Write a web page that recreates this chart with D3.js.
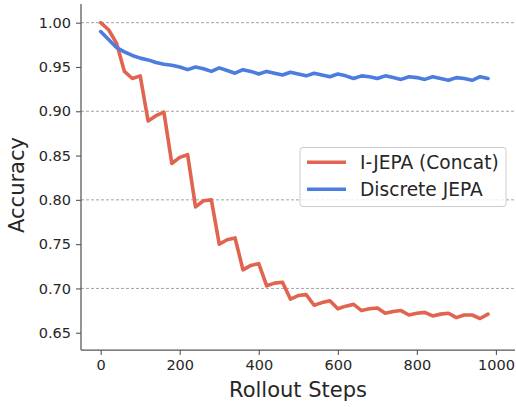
<!DOCTYPE html>
<html>
<head>
<meta charset="utf-8">
<script src="https://cdn.jsdelivr.net/npm/d3@7"></script>
<style>
  body { margin: 0; background: #fff; }
  text { font-family: "DejaVu Sans", sans-serif; fill: #262626; }
</style>
</head>
<body>
<div id="chart"></div>
<script>
/*data*/
const steps = d3.range(0, 1000, 20);
const ijepaAcc = [1.000, 0.992, 0.977, 0.945, 0.937, 0.940, 0.889, 0.895, 0.899, 0.841,
                  0.848, 0.851, 0.792, 0.799, 0.800, 0.750, 0.755, 0.757, 0.721, 0.726,
                  0.728, 0.703, 0.706, 0.707, 0.688, 0.692, 0.693, 0.681, 0.684, 0.686,
                  0.677, 0.680, 0.682, 0.675, 0.677, 0.678, 0.672, 0.674, 0.675, 0.670,
                  0.672, 0.673, 0.669, 0.671, 0.672, 0.667, 0.670, 0.670, 0.666, 0.671];
const discreteAcc = [0.990, 0.981, 0.972, 0.967, 0.963, 0.960, 0.958, 0.955, 0.953, 0.952,
                     0.950, 0.947, 0.950, 0.948, 0.945, 0.949, 0.946, 0.943, 0.947, 0.945,
                     0.942, 0.945, 0.943, 0.941, 0.944, 0.942, 0.940, 0.943, 0.941, 0.939,
                     0.942, 0.940, 0.937, 0.940, 0.939, 0.937, 0.940, 0.938, 0.936, 0.939,
                     0.938, 0.936, 0.939, 0.937, 0.935, 0.938, 0.937, 0.935, 0.939, 0.937];
const seriesNames = ["I-JEPA (Concat)", "Discrete JEPA"];
const xTicks = [0, 200, 400, 600, 800, 1000];
const yTicks = [0.65, 0.70, 0.75, 0.80, 0.85, 0.90, 0.95, 1.00];
const gridValues = [0.70, 0.80, 0.90, 1.00];

const chartWidth = 516, chartHeight = 407;
const plotLeft = 81, plotRight = 515, plotTop = 4, plotBottom = 350;
const colors = ["#e0644f", "#4a7ddf"];

const svg = d3.select("#chart").append("svg")
    .attr("width", chartWidth).attr("height", chartHeight);

const x = d3.scaleLinear().domain([-49.8, 1048.3]).range([plotLeft, plotRight]);
const y = d3.scaleLinear().domain([0.6305, 1.0211]).range([plotBottom, plotTop]);

/*dashed grid, only every other tick*/
svg.append("g").selectAll("line")
    .data(gridValues).enter().append("line")
    .attr("x1", plotLeft).attr("x2", plotRight)
    .attr("y1", d => y(d)).attr("y2", d => y(d))
    .attr("stroke", "#8c8c8c").attr("stroke-width", 0.8)
    .attr("stroke-dasharray", "3,2");

/*lines*/
const line = d3.line().x((d, i) => x(steps[i])).y(d => y(d));
[ijepaAcc, discreteAcc].forEach((vals, k) => {
  svg.append("path").datum(vals)
    .attr("d", line)
    .attr("fill", "none")
    .attr("stroke", colors[k])
    .attr("stroke-width", 3.6)
    .attr("stroke-linejoin", "round")
    .attr("stroke-linecap", "round");
});

/*axes*/
const xAxis = d3.axisBottom(x).tickValues(xTicks).tickSize(5).tickPadding(5)
    .tickFormat(d3.format("d"));
const yAxis = d3.axisLeft(y).tickValues(yTicks).tickSize(5).tickPadding(5)
    .tickFormat(d3.format(".2f"));

const gx = svg.append("g").attr("transform", "translate(0," + plotBottom + ")").call(xAxis);
const gy = svg.append("g").attr("transform", "translate(" + plotLeft + ",0)").call(yAxis);
[gx, gy].forEach(g => {
  g.select(".domain").attr("stroke", "#555").attr("stroke-width", 1.25);
  g.selectAll(".tick line").attr("stroke", "#555").attr("stroke-width", 1.1);
  g.selectAll(".tick text").style("font-size", "14.5px").attr("fill", "#262626")
    .style("font-family", "DejaVu Sans, sans-serif");
});
/*spines without the end ticks*/
gx.select(".domain").attr("d", "M" + plotLeft + ",0H" + plotRight);
gy.select(".domain").attr("d", "M0," + plotTop + "V" + plotBottom);

/*axis titles*/
svg.append("text")
    .attr("x", (plotLeft + plotRight) / 2).attr("y", 397)
    .attr("text-anchor", "middle")
    .style("font-size", "21px")
    .text("Rollout Steps");

svg.append("text")
    .attr("transform", "translate(24,185) rotate(-90)")
    .attr("text-anchor", "middle")
    .style("font-size", "21px")
    .text("Accuracy");

/*legend*/
const legend = svg.append("g");
legend.append("rect")
    .attr("x", 300).attr("y", 147.5).attr("width", 206).attr("height", 59)
    .attr("rx", 3)
    .attr("fill", "#fff").attr("fill-opacity", 0.8)
    .attr("stroke", "#cccccc").attr("stroke-width", 1);
seriesNames.forEach((name, i) => {
  const ly = 162.3 + i * 27;
  legend.append("line")
    .attr("x1", 307).attr("x2", 346)
    .attr("y1", ly).attr("y2", ly)
    .attr("stroke", colors[i]).attr("stroke-width", 3.6);
  legend.append("text")
    .attr("x", 360).attr("y", ly + 6.8)
    .style("font-size", "18.6px")
    .text(name);
});
</script>
</body>
</html>
